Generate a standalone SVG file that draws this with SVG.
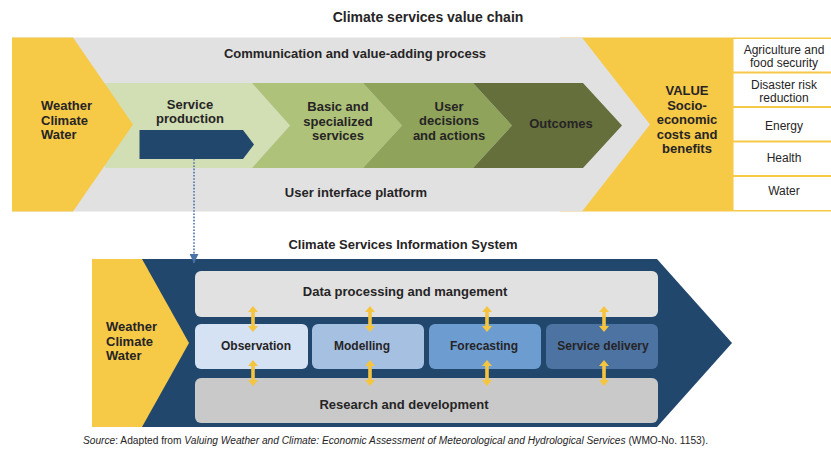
<svg xmlns="http://www.w3.org/2000/svg" width="831" height="450" viewBox="0 0 831 450">
  <defs>
    <style>
      text { font-family: "Liberation Sans", Arial, sans-serif; fill: #262425; }
      .b { font-weight: 700; font-size: 13px; }
      .s { font-weight: 700; font-size: 12px; }
      .h { font-weight: 700; font-size: 14px; }
      .c { text-anchor: middle; }
      .cell { font-size: 12px; font-weight: 400; text-anchor: middle; }
      .foot { font-size: 10px; font-weight: 400; }
      .it { font-style: italic; }
      .yarrow { fill: #f5c53f; }
    </style>
    <marker id="dotHead" viewBox="0 0 10 10" refX="10" refY="5" markerWidth="9" markerHeight="9" markerUnits="userSpaceOnUse" orient="auto">
      <path d="M0,0 L10,5 L0,10 Z" fill="#4a74a8"/>
    </marker>
    <!-- yellow two-headed arrow, centred on x=0, 26px tall -->
    <path id="dbl" d="M0,0 L5,6 L1.8,6 L1.8,20 L5,20 L0,26 L-5,20 L-1.8,20 L-1.8,6 L-5,6 Z"/>
  </defs>

  <rect width="831" height="450" fill="#ffffff"/>

  <!-- ===== Climate services value chain ===== -->
  <text class="h c" x="428" y="22">Climate services value chain</text>

  <g id="value-block">
    <rect x="560" y="37.5" width="271" height="174" fill="#f6c947"/>
  </g>

  <g id="value-sectors">
    <rect x="733.5" y="39" width="97.5" height="32.5" fill="#ffffff"/>
    <rect x="733.5" y="73.5" width="97.5" height="32.5" fill="#ffffff"/>
    <rect x="733.5" y="108" width="97.5" height="32.5" fill="#ffffff"/>
    <rect x="733.5" y="142.5" width="97.5" height="32.5" fill="#ffffff"/>
    <rect x="733.5" y="177" width="97.5" height="33" fill="#ffffff"/>
    <text class="cell" x="784" y="53.5">Agriculture and</text>
    <text class="cell" x="784" y="67">food security</text>
    <text class="cell" x="784" y="88.5">Disaster risk</text>
    <text class="cell" x="784" y="102">reduction</text>
    <text class="cell" x="784" y="130">Energy</text>
    <text class="cell" x="784" y="162">Health</text>
    <text class="cell" x="784" y="195">Water</text>
  </g>

  <g id="communication-platform">
    <polygon points="12,37.5 582,37.5 650,124.5 582,211.5 12,211.5" fill="#e1e1e1"/>
    <text class="b c" x="355" y="58">Communication and value-adding process</text>
    <text class="b c" x="356" y="197">User interface platform</text>
  </g>

  <g id="service-production">
    <polygon points="105,83 252,83 290,125.5 252,168 105,168" fill="#d2dfb4"/>
    <text class="b c" x="190" y="108.5">Service</text>
    <text class="b c" x="190" y="123">production</text>
    <polygon points="139.5,130 243,130 254,144.5 243,159 139.5,159" fill="#22476c"/>
  </g>

  <g id="basic-services">
    <polygon points="252,83 363,83 402,125.5 363,168 252,168 290,125.5" fill="#afc27a"/>
    <text class="b c" x="338" y="111">Basic and</text>
    <text class="b c" x="338" y="125.6">specialized</text>
    <text class="b c" x="338" y="140.2">services</text>
  </g>

  <g id="user-decisions">
    <polygon points="363,83 473,83 512,125.5 473,168 363,168 402,125.5" fill="#8fa35b"/>
    <text class="b c" x="449" y="110.5">User</text>
    <text class="b c" x="449" y="125.1">decisions</text>
    <text class="b c" x="449" y="139.7">and actions</text>
  </g>

  <g id="outcomes">
    <polygon points="473,83 583,83 622,125.5 583,168 473,168 512,125.5" fill="#646f3b"/>
    <text class="b c" x="561" y="127.5">Outcomes</text>
  </g>

  <g id="value-text">
    <text class="b c" x="687" y="95">VALUE</text>
    <text class="b c" x="687" y="109.6">Socio-</text>
    <text class="b c" x="687" y="124.2">economic</text>
    <text class="b c" x="687" y="138.8">costs and</text>
    <text class="b c" x="687" y="153.4">benefits</text>
  </g>

  <g id="inputs-top">
    <polygon points="12,37.5 73,37.5 133,124.5 73,211.5 12,211.5" fill="#f6c947"/>
    <text class="b" x="41" y="110">Weather</text>
    <text class="b" x="41" y="124.6">Climate</text>
    <text class="b" x="41" y="139.2">Water</text>
  </g>

  <!-- ===== Climate Services Information System ===== -->
  <text class="b c" x="403" y="248.5">Climate Services Information System</text>

  <g id="csis-frame">
    <polygon points="92,259 657,259 732,343 657,427 92,427" fill="#22476c"/>
  </g>

  <g id="inputs-bottom">
    <polygon points="92,259 142,259 189,343 142,427 92,427" fill="#f6c947"/>
    <text class="b" x="106" y="331">Weather</text>
    <text class="b" x="106" y="345.6">Climate</text>
    <text class="b" x="106" y="360.2">Water</text>
  </g>

  <g id="data-processing">
    <rect x="195" y="271" width="463" height="46" rx="6" fill="#e1e1e1"/>
    <text class="b c" x="405" y="296">Data processing and mangement</text>
  </g>

  <g id="observation">
    <rect x="195" y="324" width="113" height="45" rx="6" fill="#d5e2f3"/>
    <text class="s c" x="256" y="350">Observation</text>
  </g>

  <g id="modelling">
    <rect x="312" y="324" width="112" height="45" rx="6" fill="#a6c0e2"/>
    <text class="s c" x="362" y="350">Modelling</text>
  </g>

  <g id="forecasting">
    <rect x="429" y="324" width="112" height="45" rx="6" fill="#6d9cd1"/>
    <text class="s c" x="484" y="350">Forecasting</text>
  </g>

  <g id="service-delivery">
    <rect x="546" y="324" width="112" height="45" rx="6" fill="#4c73a1"/>
    <text class="s c" x="603" y="350">Service delivery</text>
  </g>

  <g id="research">
    <rect x="195" y="378" width="463" height="45" rx="6" fill="#c9c9c9"/>
    <text class="b c" x="404" y="409">Research and development</text>
  </g>

  <!-- connectors -->
  <g id="connectors">
    <line x1="194" y1="159" x2="194" y2="263" stroke="#4a74a8" stroke-width="1.6" stroke-dasharray="1.6,1.6" marker-end="url(#dotHead)"/>
    <use href="#dbl" class="yarrow" x="253" y="306"/>
    <use href="#dbl" class="yarrow" x="370" y="306"/>
    <use href="#dbl" class="yarrow" x="487" y="306"/>
    <use href="#dbl" class="yarrow" x="604" y="306"/>
    <use href="#dbl" class="yarrow" x="253" y="360"/>
    <use href="#dbl" class="yarrow" x="370" y="360"/>
    <use href="#dbl" class="yarrow" x="487" y="360"/>
    <use href="#dbl" class="yarrow" x="604" y="360"/>
  </g>

  <text class="foot" x="83" y="444" textLength="625" lengthAdjust="spacingAndGlyphs"><tspan class="it">Source</tspan>: Adapted from <tspan class="it">Valuing Weather and Climate: Economic Assessment of Meteorological and Hydrological Services</tspan> (WMO-No. 1153).</text>
</svg>
